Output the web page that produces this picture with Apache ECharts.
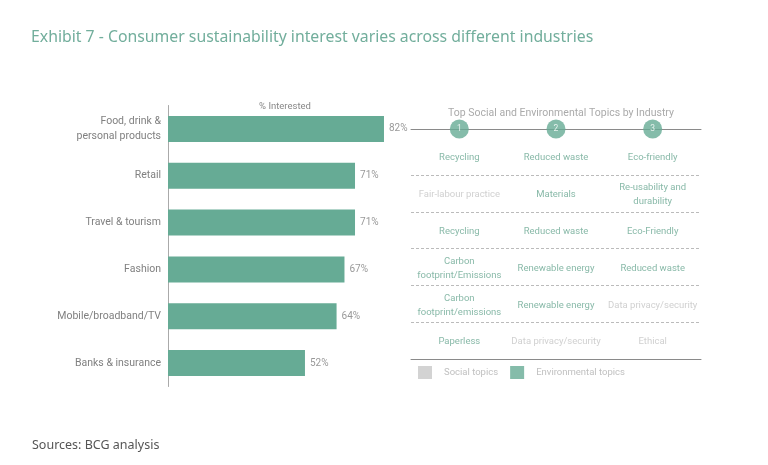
<!DOCTYPE html>
<html><head><meta charset="utf-8">
<script src="https://cdn.jsdelivr.net/npm/echarts@6/dist/echarts.min.js"></script>
<style>html,body{margin:0;padding:0;background:#fff}#c{width:768px;height:465px}</style>
</head><body><div id="c"></div>
<script>
const industries = ['Food, drink &\npersonal products','Retail','Travel & tourism','Fashion','Mobile/broadband/TV','Banks & insurance'];
const interested = [82,71,71,67,64,52];
const columns = ['1','2','3'];
const topic1 = ['Recycling','Fair-labour practice','Recycling','Carbon\nfootprint/Emissions','Carbon\nfootprint/emissions','Paperless'];
const topic2 = ['Reduced waste','Materials','Reduced waste','Renewable energy','Renewable energy','Data privacy/security'];
const topic3 = ['Eco-friendly','Re-usability and\ndurability','Eco-Friendly','Reduced waste','Data privacy/security','Ethical'];
const type1 = ['E','S','E','E','E','E'];
const type2 = ['E','E','E','E','E','S'];
const type3 = ['E','E','E','E','S','S'];

const GREEN = '#66ab95';
const ENV_TXT = '#6aa892';
const SOC_TXT = '#c4c4c4';
const FONT = 'Roboto, sans-serif';
const TFONT = '"Noto Sans", sans-serif';

const topics = [topic1, topic2, topic3];
const types = [type1, type2, type3];
const socialData = [], envData = [];
topics.forEach((col, ci) => col.forEach((t, ri) => {
  const item = {value: [ci, ri], name: t};
  (types[ci][ri] === 'S' ? socialData : envData).push(item);
}));
const headerRow = -0.75;

const chart = echarts.init(document.getElementById('c'));
chart.setOption({
  animation: false,
  textStyle: {fontFamily: FONT},
  title: [
    {text: 'Exhibit 7 - Consumer sustainability interest varies across different industries', left: 26, top: 24,
     textStyle: {color: '#72ae9c', fontSize: 15.8, fontWeight: 'normal', fontFamily: TFONT}},
    {text: '% Interested', left: 280, top: 97, textAlign: 'center',
     textStyle: {color: '#888', fontSize: 9.5, fontWeight: 'normal', fontFamily: FONT}},
    {text: 'Top Social and Environmental Topics by Industry', left: 556, top: 103, textAlign: 'center',
     textStyle: {color: '#aaa', fontSize: 10.5, fontWeight: 'normal', fontFamily: FONT}},
    {text: 'Sources: BCG analysis', left: 27, top: 434,
     textStyle: {color: '#555', fontSize: 12.5, fontWeight: 'normal', fontFamily: TFONT}}
  ],
  legend: {
    data: ['Social topics', 'Environmental topics'],
    left: 413, top: 361, icon: 'rect', itemWidth: 14, itemHeight: 13, itemGap: 12,
    textStyle: {color: '#c0c0c0', fontSize: 9.5, padding: [0, 0, 0, 7], fontFamily: FONT},
    selectedMode: false
  },
  grid: [
    {left: 168, top: 105.5, width: 263.4, height: 281, containLabel: false},
    {left: 411, top: 129, width: 290, height: 230, containLabel: false}
  ],
  xAxis: [
    {gridIndex: 0, type: 'value', min: 0, max: 100, show: false},
    {gridIndex: 1, type: 'category', data: columns, position: 'top',
     axisLine: {show: true, onZero: false, lineStyle: {color: '#8a8a8a', width: 1}},
     axisTick: {show: false}, axisLabel: {show: false}, splitLine: {show: false}},
    {gridIndex: 1, type: 'category', data: columns, position: 'bottom',
     axisLine: {show: true, onZero: false, lineStyle: {color: '#8a8a8a', width: 1}},
     axisTick: {show: false}, axisLabel: {show: false}, splitLine: {show: false}}
  ],
  yAxis: [
    {gridIndex: 0, type: 'category', data: industries, inverse: true,
     axisLine: {show: true, lineStyle: {color: '#aaa'}}, axisTick: {show: false},
     axisLabel: {color: '#808080', fontSize: 10.5, margin: 7, lineHeight: 15, fontFamily: FONT}},
    {gridIndex: 1, type: 'value', min: headerRow, max: 5.5, inverse: true, show: false}
  ],
  series: [
    {type: 'bar', xAxisIndex: 0, yAxisIndex: 0, data: interested, barWidth: 26,
     itemStyle: {color: GREEN},
     label: {show: true, position: 'right', distance: 5, formatter: '{c}%', color: '#999', fontSize: 10, fontFamily: FONT}},
    {name: 'Social topics', type: 'scatter', xAxisIndex: 1, yAxisIndex: 1, data: socialData, symbolSize: 0,
     itemStyle: {color: '#c8c8c8'},
     label: {show: true, position: 'inside', offset: [0, 1.5], formatter: p => p.name, color: SOC_TXT, fontSize: 9.5, lineHeight: 14, fontFamily: FONT},
     markLine: {silent: true, symbol: 'none', label: {show: false},
       lineStyle: {type: [3, 2], color: '#bbb', width: 1},
       data: [{yAxis: 0.5}, {yAxis: 1.5}, {yAxis: 2.5}, {yAxis: 3.5}, {yAxis: 4.5}]}},
    {name: 'Environmental topics', type: 'scatter', xAxisIndex: 1, yAxisIndex: 1, data: envData, symbolSize: 0,
     itemStyle: {color: GREEN},
     label: {show: true, position: 'inside', offset: [0, 1.5], formatter: p => p.name, color: ENV_TXT, fontSize: 9.5, lineHeight: 14, fontFamily: FONT}},
    {type: 'scatter', xAxisIndex: 1, yAxisIndex: 1, symbolSize: 19, z: 5,
     data: columns.map((c, i) => ({value: [i, headerRow], name: c})),
     itemStyle: {color: GREEN},
     label: {show: true, position: 'inside', formatter: p => p.name, color: '#fff', fontSize: 8.5, fontFamily: FONT}}
  ]
});
</script>
</body></html>
